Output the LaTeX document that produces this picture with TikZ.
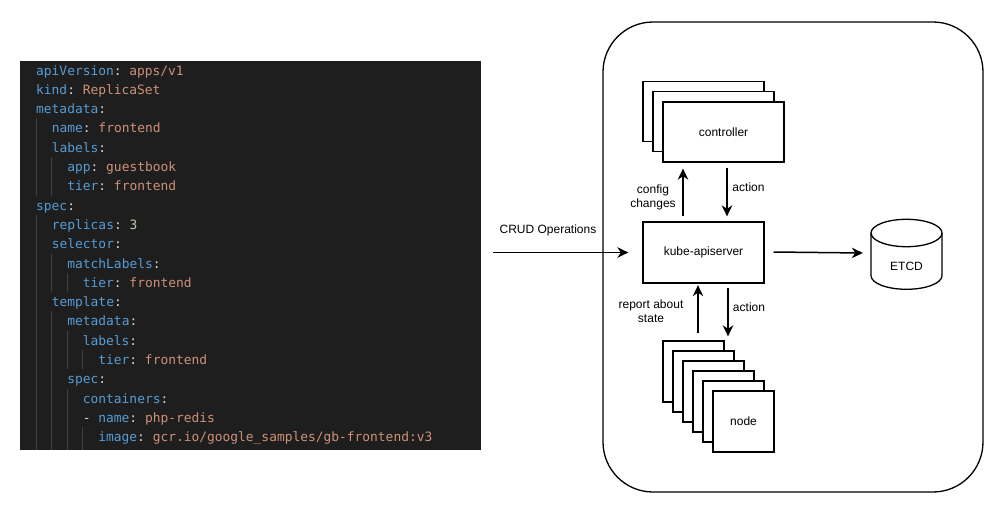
\documentclass[tikz,border=0pt]{standalone}
\usepackage{fontspec}
\usetikzlibrary{arrows.meta}
\newfontfamily\labfont{Liberation Sans}
\newfontfamily\codefont{DejaVu Sans Mono}
\definecolor{codebg}{HTML}{1E1E1E}
\definecolor{ckey}{HTML}{569CD6}
\definecolor{cval}{HTML}{CE9178}
\definecolor{cnum}{HTML}{B5CEA8}
\definecolor{cpun}{HTML}{D4D4D4}
\definecolor{cguide}{HTML}{404040}
\newcommand\codeK[1]{\textcolor{ckey}{#1}}
\newcommand\codeV[1]{\textcolor{cval}{#1}}
\newcommand\codeN[1]{\textcolor{cnum}{#1}}
\newcommand\codeP[1]{\textcolor{cpun}{#1}}
\newcommand\csp{\hspace*{0.602em}}
\tikzset{
  codeline/.style={anchor=base west, inner sep=0pt, font=\codefont\fontsize{12.9}{15}\selectfont},
  guide/.style={draw=cguide, line width=1pt},
  box/.style={draw, fill=white, line width=1.3pt, inner sep=0pt},
  ctrlbox/.style={box, minimum width=121pt, minimum height=60pt},
  nodebox/.style={box, minimum width=61pt, minimum height=61pt},
  arr/.style={line width=1.5pt, -{Stealth[length=11pt,width=10.5pt,inset=3.5pt]}},
  lab/.style={font=\labfont\fontsize{12}{14}\selectfont, align=center, inner sep=0pt},
}
\begin{document}
\begin{tikzpicture}[x=1pt,y=-1pt]
\useasboundingbox (0,0) rectangle (1005,512);
% ---------- code panel ----------
\node[fill=codebg, inner sep=0pt, minimum width=461pt, minimum height=389pt, anchor=north west] (code) at (20,61) {};
% indent guides
\draw[guide] (36,118.4) -- (36,195.6);
\draw[guide] (36,214.9) -- (36,450);
\draw[guide] (51.7,157) -- (51.7,195.6);
\draw[guide] (51.7,253.5) -- (51.7,292.1);
\draw[guide] (51.7,311.4) -- (51.7,450);
\draw[guide] (67.2,272.8) -- (67.2,292.1);
\draw[guide] (67.2,330.7) -- (67.2,369.3);
\draw[guide] (67.2,388.6) -- (67.2,450);
\draw[guide] (82.7,350) -- (82.7,369.3);
\draw[guide] (82.7,427.2) -- (82.7,450);
% code lines
\node[codeline] (l1) at (36,75) {\codeK{apiVersion}\codeP{:}\csp\codeV{apps/v1}};
\node[codeline] (l2) at (36,94.3) {\codeK{kind}\codeP{:}\csp\codeV{ReplicaSet}};
\node[codeline] (l3) at (36,113.6) {\codeK{metadata}\codeP{:}};
\node[codeline] (l4) at (51.7,132.9) {\codeK{name}\codeP{:}\csp\codeV{frontend}};
\node[codeline] (l5) at (51.7,152.2) {\codeK{labels}\codeP{:}};
\node[codeline] (l6) at (67.2,171.5) {\codeK{app}\codeP{:}\csp\codeV{guestbook}};
\node[codeline] (l7) at (67.2,190.8) {\codeK{tier}\codeP{:}\csp\codeV{frontend}};
\node[codeline] (l8) at (36,210.1) {\codeK{spec}\codeP{:}};
\node[codeline] (l9) at (51.7,229.4) {\codeK{replicas}\codeP{:}\csp\codeN{3}};
\node[codeline] (l10) at (51.7,248.7) {\codeK{selector}\codeP{:}};
\node[codeline] (l11) at (67.2,268) {\codeK{matchLabels}\codeP{:}};
\node[codeline] (l12) at (82.7,287.3) {\codeK{tier}\codeP{:}\csp\codeV{frontend}};
\node[codeline] (l13) at (51.7,306.6) {\codeK{template}\codeP{:}};
\node[codeline] (l14) at (67.2,325.9) {\codeK{metadata}\codeP{:}};
\node[codeline] (l15) at (82.7,345.2) {\codeK{labels}\codeP{:}};
\node[codeline] (l16) at (98.2,364.5) {\codeK{tier}\codeP{:}\csp\codeV{frontend}};
\node[codeline] (l17) at (67.2,383.8) {\codeK{spec}\codeP{:}};
\node[codeline] (l18) at (82.7,403.1) {\codeK{containers}\codeP{:}};
\node[codeline] (l19) at (82.7,422.4) {\codeP{-}\csp\codeK{name}\codeP{:}\csp\codeV{php-redis}};
\node[codeline] (l20) at (98.2,441.7) {\codeK{image}\codeP{:}\csp\codeV{gcr.io/google\_samples/gb-frontend:v3}};
% ---------- cluster ----------
\node[draw, line width=1.3pt, rounded corners=50pt, minimum width=380pt, minimum height=470pt, inner sep=0pt] (cluster) at (793,257) {};
% controller stack
\node[ctrlbox] (c1) at (703.5,111.5) {};
\node[ctrlbox] (c2) at (713.5,121.75) {};
\node[ctrlbox, font=\labfont\fontsize{12}{14}\selectfont] (ctrl) at (723.5,132) {controller};
% kube-apiserver
\node[box, minimum width=121pt, minimum height=61pt, font=\labfont\fontsize{12}{14}\selectfont] (kube) at (703.5,252.5) {kube-apiserver};
% node stack
\node[nodebox] (n1) at (693.5,371.5) {};
\node[nodebox] (n2) at (703.5,381.5) {};
\node[nodebox] (n3) at (713.5,391.5) {};
\node[nodebox] (n4) at (723.5,401.5) {};
\node[nodebox] (n5) at (733.5,411.5) {};
\node[nodebox, font=\labfont\fontsize{12}{14}\selectfont] (n6) at (743.5,421.5) {node};
% ETCD cylinder
\node[inner sep=0pt, minimum width=71pt, minimum height=70pt] (etcd) at (906.5,254.3) {};
\draw[line width=1.3pt, fill=white] (871,233) -- (871,275.6) .. controls (871,283.2) and (886.9,289.3) .. (906.5,289.3) .. controls (926.1,289.3) and (942,283.2) .. (942,275.6) -- (942,233);
\draw[line width=1.3pt, fill=white] (906.5,233) ellipse [x radius=35.5pt, y radius=13.7pt];
\node[lab] (etcdtxt) at (906.5,266.5) {ETCD};
% ---------- connectors ----------
\coordinate (crud) at (493,252.5);
\draw[arr] (crud) -- ([xshift=-14pt]kube.west);
\node[lab] (crudlab) at (548,230.5) {CRUD Operations};
\draw[arr] ([xshift=-20.5pt,yshift=5pt]kube.north) -- ([xshift=-40.5pt,yshift=-6pt]ctrl.south);
\draw[arr] ([xshift=3.5pt,yshift=-5pt]ctrl.south) -- ([xshift=23.5pt,yshift=5pt]kube.north);
\draw[arr] ([xshift=9pt,yshift=0.5pt]kube.east) -- ([xshift=-8pt,yshift=1.3pt]etcd.west);
\draw[arr] ([xshift=4.5pt,yshift=7pt]n1.north) -- ([xshift=-5.5pt,yshift=-1.5pt]kube.south);
\draw[arr] ([xshift=24.5pt,yshift=-4pt]kube.south) -- ([xshift=34.5pt,yshift=4pt]n1.north);
\node[lab] (cfglab) at (653,197) {config\\changes};
\node[lab] (act1) at (748.5,187.5) {action};
\node[lab] (replab) at (651,311) {report about\\state};
\node[lab] (act2) at (749,307.5) {action};
\end{tikzpicture}
\end{document}
